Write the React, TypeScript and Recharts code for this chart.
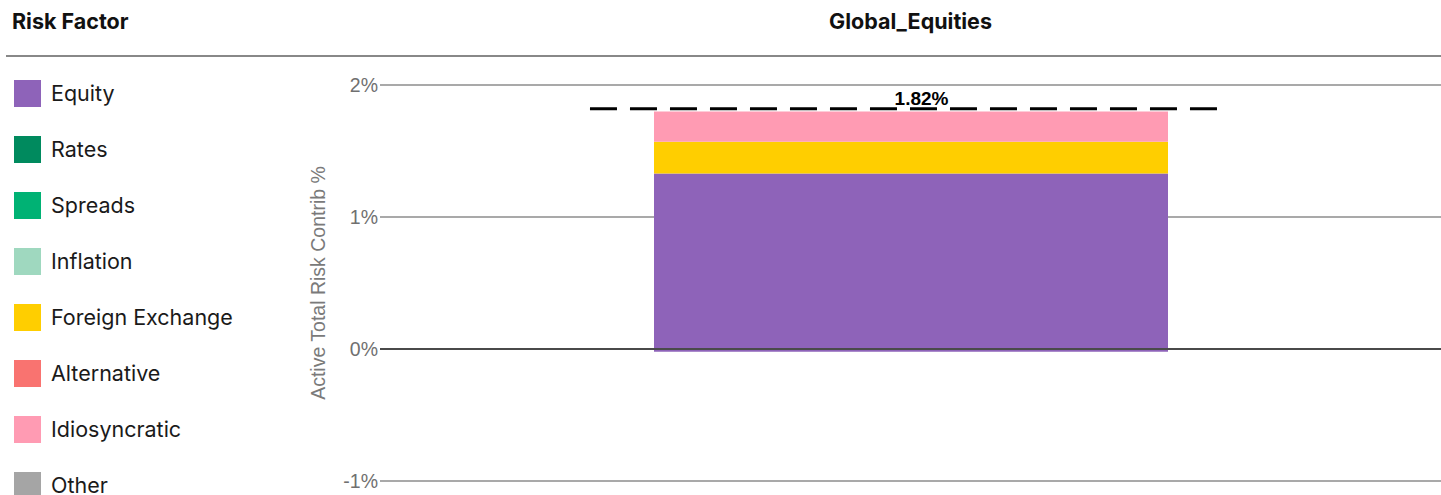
import React from "react"
import { ComposedChart, Bar, XAxis, YAxis, CartesianGrid, ReferenceLine, Label } from "recharts"

const categories = ["Global_Equities"]
const factors = ["Equity", "Rates", "Spreads", "Inflation", "Foreign Exchange", "Alternative", "Idiosyncratic", "Other"]
const colors = ["#8e63b9", "#008a5e", "#00b274", "#9fd8bf", "#ffce00", "#f97370", "#ff9bb3", "#a5a5a5"]
// positive and negative parts of each factor's contribution (%)
const positive = [1.33, 0, 0, 0, 0.24, 0, 0.23, 0]
const negative = [-0.02, 0, 0, 0, 0, 0, 0, 0]
const totals = [1.82]
const yTicks = [-1, 0, 1, 2]

const data = categories.map((name, c) => {
  const row: Record<string, string | number> = { name, total: totals[c] }
  factors.forEach((f, i) => {
    row[f] = positive[i]
    row[f + "_neg"] = negative[i]
  })
  return row
})

const FONT = "Inter, 'Noto Sans', sans-serif"
const AXIS_FONT = "'Liberation Sans', Arial, sans-serif"

// dashed total marker, a bit wider than the bar
const TotalLine = (props: any) => {
  const { x1, x2, y1 } = props
  const mid = (x1 + x2) / 2 - 7
  const half = (x2 - x1) * 0.2955
  return (
    <line x1={mid - half} x2={mid + half} y1={y1} y2={y1} stroke="#000" strokeWidth={3} strokeDasharray="27 13" />
  )
}

const App = () => {
  return (
    <div style={{ position: "absolute", left: 0, top: 0, width: 1441, height: 495, background: "#fff", fontFamily: FONT, overflow: "hidden" }}>
      <div style={{ position: "absolute", left: 12, top: 8, fontSize: 21.5, fontWeight: 700, color: "#111" }}>Risk Factor</div>
      <div style={{ position: "absolute", left: 380, width: 1061, top: 8, textAlign: "center", fontSize: 21.5, fontWeight: 700, color: "#111" }}>
        {categories[0]}
      </div>
      <div style={{ position: "absolute", left: 6, right: 0, top: 55, height: 2, background: "#888" }} />

      {factors.map((f, i) => (
        <div key={f} style={{ position: "absolute", left: 14, top: 79 + i * 56, height: 28, display: "flex", alignItems: "center" }}>
          <div style={{ width: 27, height: 27, background: colors[i], flexShrink: 0 }} />
          <span style={{ marginLeft: 10, fontSize: 21.5, color: "#1a1a1a", whiteSpace: "nowrap" }}>{f}</span>
        </div>
      ))}

      <div style={{ position: "absolute", left: 300, top: 60 }}>
        <ComposedChart width={1141} height={435} data={data} stackOffset="sign" margin={{ top: 25, right: 0, bottom: 14, left: 0 }}>
          <CartesianGrid vertical={false} stroke="#8c8c8c" strokeWidth={1.5} />
          <XAxis dataKey="name" hide />
          <YAxis
            width={80}
            domain={[-1, 2]}
            ticks={yTicks}
            axisLine={false}
            tickLine={false}
            tickSize={0}
            tickMargin={2}
            tickFormatter={(v) => `${v}%`}
            tick={{ fill: "#707070", fontSize: 19.5, fontFamily: AXIS_FONT }}
          >
            <Label
              value="Active Total Risk Contrib %"
              angle={-90}
              position="insideLeft"
              offset={18}
              style={{ fill: "#7a7a7a", fontSize: 19.5, fontFamily: AXIS_FONT, textAnchor: "middle" }}
            />
          </YAxis>
          {factors.map((f, i) => (
            <Bar key={f} dataKey={f} stackId="risk" fill={colors[i]} barSize={514} isAnimationActive={false} />
          ))}
          {factors.map((f, i) => (
            <Bar key={f + "_neg"} dataKey={f + "_neg"} stackId="risk" fill={colors[i]} barSize={514} isAnimationActive={false} />
          ))}
          <ReferenceLine y={0} stroke="#4a4a4a" strokeWidth={2} />
          <ReferenceLine y={totals[0]} shape={TotalLine}>
            <Label
              value={`${totals[0].toFixed(2)}%`}
              position="top"
              offset={4}
              dx={11}
              style={{ fill: "#000", fontSize: 19, fontWeight: 700, fontFamily: AXIS_FONT }}
            />
          </ReferenceLine>
        </ComposedChart>
      </div>
    </div>
  )
}

export default App
